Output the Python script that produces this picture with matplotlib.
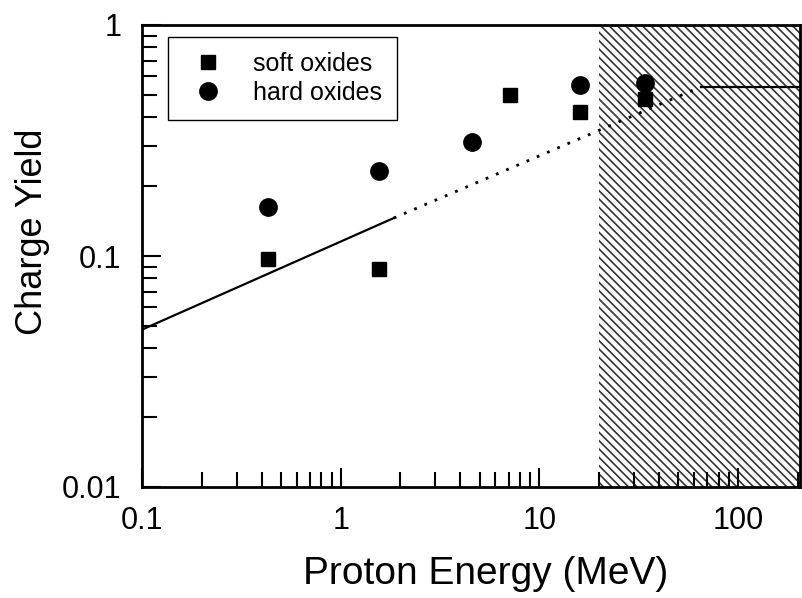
import matplotlib
matplotlib.use("Agg")
from matplotlib import pyplot as plt
from matplotlib.ticker import LogLocator, NullFormatter, FuncFormatter

plt.rcParams['font.family'] = ['Liberation Sans', 'DejaVu Sans']
plt.rcParams['hatch.linewidth'] = 1.2

# measured charge yield
energy_soft = [0.43, 1.55, 7.1, 16, 34]
yield_soft = [0.097, 0.088, 0.50, 0.42, 0.48]
energy_hard = [0.43, 1.55, 4.6, 16, 34]
yield_hard = [0.163, 0.233, 0.31, 0.55, 0.56]

# model curve: fitted part, extrapolation, plateau
fit_x = [0.1, 1.85]
fit_y = [0.048, 0.146]
extrap_x = [1.85, 65]
extrap_y = [0.146, 0.54]
plateau_x = [65, 205]
plateau_y = [0.54, 0.54]

# energies above this are out of range
shade_start = 20

fig = plt.figure(figsize=(8.03, 5.98), dpi=100)
ax = fig.add_axes([142 / 803, 111 / 598, 658 / 803, 462 / 598])

ax.set_xscale('log')
ax.set_yscale('log')
ax.set_xlim(0.1, 205)
ax.set_ylim(0.01, 1)

ax.axvspan(shade_start, 205, facecolor='none', edgecolor='#333333',
           hatch='\\\\\\\\', linewidth=0, zorder=0)

ax.plot(fit_x, fit_y, color='black', lw=1.6)
ax.plot(extrap_x, extrap_y, color='black', lw=2.0, linestyle=(0, (1, 3)))
ax.plot(plateau_x, plateau_y, color='black', lw=1.6)

ax.plot(energy_soft, yield_soft, 's', color='black', ms=10, label='soft oxides')
ax.plot(energy_hard, yield_hard, 'o', color='black', ms=12.5, label='hard oxides')

for s in ax.spines.values():
    s.set_linewidth(2)

fmt = FuncFormatter(lambda v, p: '%g' % v)
ax.xaxis.set_major_formatter(fmt)
ax.yaxis.set_major_formatter(fmt)
ax.xaxis.set_minor_locator(LogLocator(base=10, subs=range(2, 10)))
ax.yaxis.set_minor_locator(LogLocator(base=10, subs=range(2, 10)))
ax.xaxis.set_minor_formatter(NullFormatter())
ax.yaxis.set_minor_formatter(NullFormatter())

ax.tick_params(which='both', direction='in', top=False, right=False, width=1.5)
ax.tick_params(which='major', length=14, labelsize=22)
ax.tick_params(which='minor', length=10.5)
ax.tick_params(axis='x', which='major', pad=14)
ax.tick_params(axis='y', which='major', pad=15)

ax.set_xlabel('Proton Energy (MeV)', fontsize=28)
ax.set_ylabel('Charge Yield', fontsize=26)
ax.xaxis.set_label_coords(0.522, -0.15)
ax.yaxis.set_label_coords(-0.14, 0.552)

leg = ax.legend(loc='upper left', bbox_to_anchor=(0.0395, 0.974),
                borderaxespad=0, fontsize=18, frameon=True, fancybox=False,
                framealpha=1, edgecolor='black', borderpad=0.6,
                labelspacing=0.2, handlelength=2.0, handletextpad=0.8,
                numpoints=1)
leg.get_frame().set_linewidth(1.0)

plt.savefig('out.png', dpi=100)
plt.close()
